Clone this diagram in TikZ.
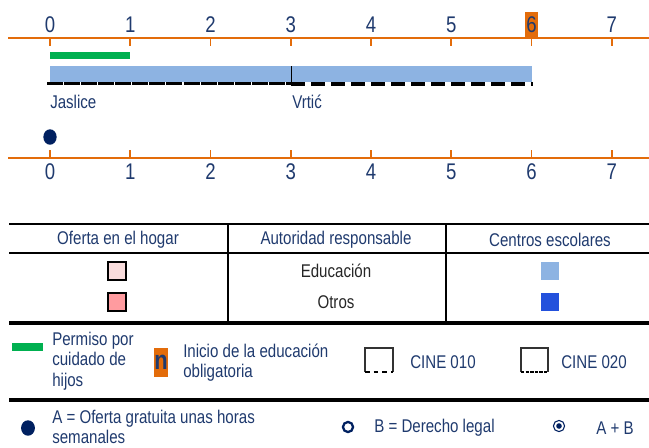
\documentclass[tikz,border=0pt]{standalone}
\usepackage{fontspec}
\setmainfont{Liberation Sans}[FakeStretch=0.82]
\usetikzlibrary{positioning}
\definecolor{axisorange}{HTML}{E36C0A}
\definecolor{navytext}{HTML}{1F3A6E}
\definecolor{navydot}{HTML}{002060}
\definecolor{leavegreen}{HTML}{00B050}
\definecolor{schoolblue}{HTML}{8DB3E2}
\definecolor{otherblue}{HTML}{2351DC}
\definecolor{homepink}{HTML}{F9DCDC}
\definecolor{otherpink}{HTML}{FF9B9F}

\begin{document}
\begin{tikzpicture}[x=0.75pt, y=-0.75pt,
    txt/.style={text=navytext, font=\fontsize{13.8}{15.5}\selectfont, inner sep=0pt, align=left},
    num/.style={text=navytext, font=\fontsize{17}{18}\selectfont, inner sep=0pt},
    axis/.style={draw=axisorange, line width=1.6pt},
    tick/.style={draw=axisorange, line width=1.4pt},
    rulebar/.style={line width=2pt},
    swatch/.style={draw, line width=0.9pt, minimum size=13.5pt, inner sep=0pt}]
  \useasboundingbox (0,0) rectangle (649,447);
  % top axis
  \fill[axisorange] (525,12) rectangle (538,38);
  \draw[axis] (8,38) -- (649,38);
  \foreach \k in {0,...,7} {
    \draw[tick] (50+80.25*\k,38) -- (50+80.25*\k,46);
    \node[num] (top\k) at (50+80.25*\k,25) {\k};
  }
  % bars
  \fill[leavegreen] (50,52) rectangle (130,59);
  \fill[schoolblue] (50,66) rectangle (532,82);
  \draw[line width=0.6pt] (291,66) -- (291,83);
  \draw[line width=1.8pt, dash pattern=on 12pt off 0.8pt] (47,83.5) -- (291,83.5);
  \draw[line width=2.4pt, dash pattern=on 10.5pt off 4.5pt] (291,84) -- (533,84);
  \node[txt, anchor=west] (jaslice) at (50,102) {Jaslice};
  \node[txt, anchor=west] (vrtic) at (292,102) {Vrtić};
  \fill[navydot] (50,137) ellipse[x radius=5pt, y radius=5.8pt];
  % bottom axis
  \draw[axis] (8,158) -- (649,158);
  \foreach \k in {0,...,7} {
    \draw[tick] (50+80.25*\k,150) -- (50+80.25*\k,158);
    \node[num] (bot\k) at (50+80.25*\k,172) {\k};
  }
  % table
  \draw[rulebar] (9,224) -- (649,224);
  \draw[line width=1.5pt] (9,253) -- (649,253);
  \draw[line width=1.2pt] (228,224) -- (228,323) (446,224) -- (446,323);
  \node[txt] (hhome) at (118,240) {Oferta en el hogar};
  \node[txt] (hauth) at (336,240) {Autoridad responsable};
  \node[txt] (hschool) at (550,240) {Centros escolares};
  \node[swatch, fill=homepink] (pink1) at (117,271) {};
  \node[txt, text=black!85] (edu) at (336,271) {Educación};
  \node[swatch, draw=none, fill=schoolblue] (blue1) at (550,271) {};
  \node[swatch, fill=otherpink] (pink2) at (117,302) {};
  \node[txt, text=black!85] (otros) at (336,302) {Otros};
  \node[swatch, draw=none, fill=otherblue] (blue2) at (550,302) {};
  \draw[line width=2.4pt] (9,323) -- (649,323);
  % legend
  \fill[leavegreen] (12,343) rectangle (43,351);
  \node[txt, anchor=west] (leave) at (52,361) {Permiso por\\cuidado de\\hijos};
  \node[fill=axisorange, text=navytext, inner sep=0pt, minimum width=10.5pt, minimum height=21.5pt,
        font=\fontsize{20}{20}\selectfont\bfseries] (start) at (161,362.5) {n};
  \node[txt, anchor=west] (startlbl) at (183,362.5) {Inicio de la educación\\obligatoria};
  \draw[line width=0.8pt, black!80] (365,372) -- (365,348) -- (393,348) -- (393,372);
  \draw[line width=1.5pt, dash pattern=on 3.5pt off 3pt] (365,372) -- (393,372);
  \node[txt, anchor=west] (isced0) at (410,362) {CINE 010};
  \draw[line width=0.8pt, black!80] (521,372) -- (521,348) -- (548,348) -- (548,372);
  \draw[line width=2.2pt, dash pattern=on 2.6pt off 0.8pt] (521,372) -- (548,372);
  \node[txt, anchor=west] (isced2) at (561,362) {CINE 020};
  \draw[line width=2.4pt] (9,400) -- (649,400);
  \fill[navydot] (28,428) ellipse[x radius=5.2pt, y radius=5.8pt];
  \node[txt, anchor=west] (free) at (52,427) {A = Oferta gratuita unas horas\\semanales};
  \draw[navydot, line width=1.7pt] (348,427) circle[radius=3.8pt];
  \node[txt, anchor=west] (legal) at (374,428) {B = Derecho legal};
  \draw[navydot, line width=0.8pt] (559,426) circle[radius=4.2pt];
  \fill[navydot] (559,426) circle[radius=2.1pt];
  \node[txt, anchor=west] (both) at (596,428) {A + B};
\end{tikzpicture}
\end{document}
